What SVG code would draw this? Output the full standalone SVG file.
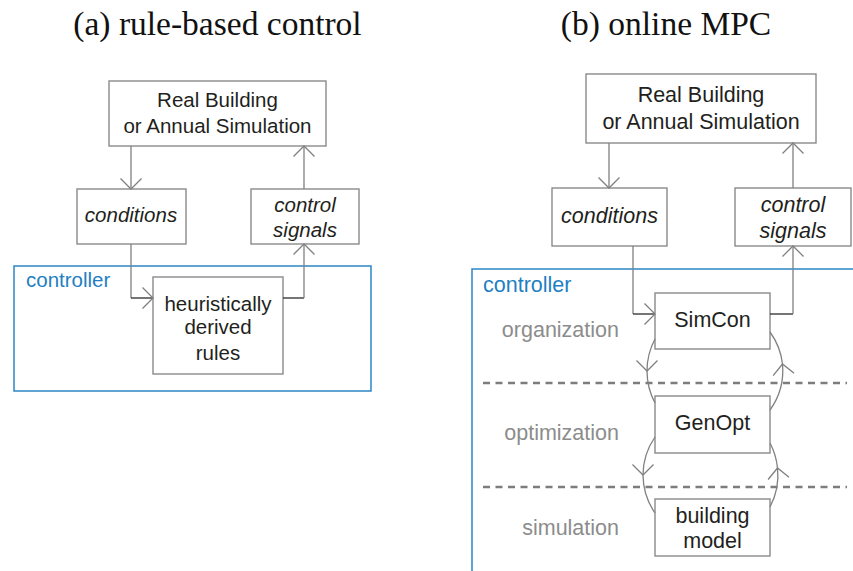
<svg xmlns="http://www.w3.org/2000/svg" width="853" height="571" viewBox="0 0 853 571">
<style>
.bg{fill:#ffffff}
.box{fill:#ffffff;stroke:#8a8a8a;stroke-width:1.4}
.ctrl{fill:none;stroke:#2b86c5;stroke-width:1.5}
.ln{fill:none;stroke:#808080;stroke-width:1.3}
.dk{fill:none;stroke:#2a2a2a;stroke-width:1.3}
.dash{fill:none;stroke:#7d7d7d;stroke-width:2.6;stroke-dasharray:7,5.5}
.t{font-family:"Liberation Sans",Arial,sans-serif;fill:#231f20;text-anchor:middle}
.l{font-size:20.5px}
.r{font-size:21.5px}
.it{font-style:italic}
.blue{font-family:"Liberation Sans",Arial,sans-serif;fill:#1f7fc3}
.grey{font-family:"Liberation Sans",Arial,sans-serif;fill:#8c8c8c;font-size:21.5px;text-anchor:end}
.title{font-family:"Liberation Serif","Times New Roman",serif;font-size:33.5px;fill:#111;text-anchor:middle}
</style>
<defs>
<marker id="chev" markerUnits="userSpaceOnUse" viewBox="0 0 30 30" markerWidth="30" markerHeight="30" refX="15" refY="15" orient="auto">
<path d="M4.5,4.5 L15,15 L4.5,25.5" fill="none" stroke="#808080" stroke-width="1.3"/>
</marker>
</defs>
<rect class="bg" x="0" y="0" width="853" height="571"/>

<g id="titles">
<text class="title" x="217.5" y="35">(a) rule-based control</text>
<text class="title" x="666" y="35">(b) online MPC</text>
</g>

<!-- panel (a) -->
<g id="a-controller">
<rect class="ctrl" x="14" y="266" width="357" height="125"/>
<text class="blue" x="26" y="287" font-size="20.5">controller</text>
</g>
<g id="a-building">
<rect class="box" x="109" y="81" width="217" height="65"/>
<text class="t l" x="217.5" y="107">Real Building</text>
<text class="t l" x="217.5" y="133">or Annual Simulation</text>
</g>
<g id="a-conditions">
<rect class="box" x="77" y="189" width="109" height="55"/>
<text class="t l it" x="131" y="222">conditions</text>
</g>
<g id="a-signals">
<rect class="box" x="251" y="189" width="108" height="55"/>
<text class="t l it" x="305" y="212">control</text>
<text class="t l it" x="305" y="237">signals</text>
</g>
<g id="a-rules">
<rect class="box" x="153" y="277" width="130" height="97"/>
<text class="t l" x="218" y="311">heuristically</text>
<text class="t l" x="218" y="334">derived</text>
<text class="t l" x="218" y="360">rules</text>
</g>

<!-- panel (b) -->
<g id="b-controller">
<rect class="ctrl" x="472" y="269" width="420" height="330"/>
<text class="blue" x="483" y="292" font-size="21.5">controller</text>
</g>
<g id="b-layers">
<line class="dash" x1="483" y1="383" x2="847" y2="383"/>
<line class="dash" x1="483" y1="487" x2="847" y2="487"/>
<text class="grey" x="619" y="337">organization</text>
<text class="grey" x="619" y="440">optimization</text>
<text class="grey" x="619" y="535">simulation</text>
</g>
<g id="b-building">
<rect class="box" x="586" y="74" width="230" height="69"/>
<text class="t r" x="701" y="102">Real Building</text>
<text class="t r" x="701" y="129">or Annual Simulation</text>
</g>
<g id="b-conditions">
<rect class="box" x="552" y="188" width="115" height="58"/>
<text class="t r it" x="609.5" y="223">conditions</text>
</g>
<g id="b-signals">
<rect class="box" x="735" y="188" width="116" height="58"/>
<text class="t r it" x="793" y="212">control</text>
<text class="t r it" x="793" y="238">signals</text>
</g>
<g id="b-simcon">
<rect class="box" x="655" y="293" width="115" height="56"/>
<text class="t r" x="712.5" y="327">SimCon</text>
</g>
<g id="b-genopt">
<rect class="box" x="655" y="396" width="115" height="57"/>
<text class="t r" x="712.5" y="430">GenOpt</text>
</g>
<g id="b-model">
<rect class="box" x="655" y="499" width="115" height="57"/>
<text class="t r" x="712.5" y="523">building</text>
<text class="t r" x="712.5" y="548">model</text>
</g>

<g id="connectors">
<!-- panel (a) -->
<line class="ln" x1="131" y1="146" x2="131" y2="189" marker-end="url(#chev)"/>
<line class="ln" x1="304" y1="189" x2="304" y2="146" marker-end="url(#chev)"/>
<line class="ln" x1="131" y1="244" x2="131" y2="298"/>
<line class="dk" x1="131" y1="298" x2="153" y2="298" marker-end="url(#chev)"/>
<line class="dk" x1="283" y1="298" x2="304" y2="298"/>
<line class="ln" x1="304" y1="298" x2="304" y2="244" marker-end="url(#chev)"/>
<!-- panel (b) -->
<line class="ln" x1="609" y1="143" x2="609" y2="188" marker-end="url(#chev)"/>
<line class="ln" x1="793" y1="188" x2="793" y2="143" marker-end="url(#chev)"/>
<line class="ln" x1="633" y1="246" x2="633" y2="314"/>
<line class="dk" x1="633" y1="314" x2="655" y2="314" marker-end="url(#chev)"/>
<line class="dk" x1="770" y1="314" x2="793" y2="314"/>
<line class="ln" x1="793" y1="314" x2="793" y2="246" marker-end="url(#chev)"/>
<path class="ln" d="M655,339 A68,68 0 0 0 647,371 A68,68 0 0 0 655,403" marker-mid="url(#chev)"/>
<path class="ln" d="M770,410 A68,68 0 0 0 782.5,364 A68,68 0 0 0 770,332" marker-mid="url(#chev)"/>
<path class="ln" d="M655,437 A67.5,67.5 0 0 0 643,475 A67.5,67.5 0 0 0 655,513" marker-mid="url(#chev)"/>
<path class="ln" d="M770,507 A67.5,67.5 0 0 0 777.5,468 A67.5,67.5 0 0 0 770,443" marker-mid="url(#chev)"/>
</g>
</svg>
